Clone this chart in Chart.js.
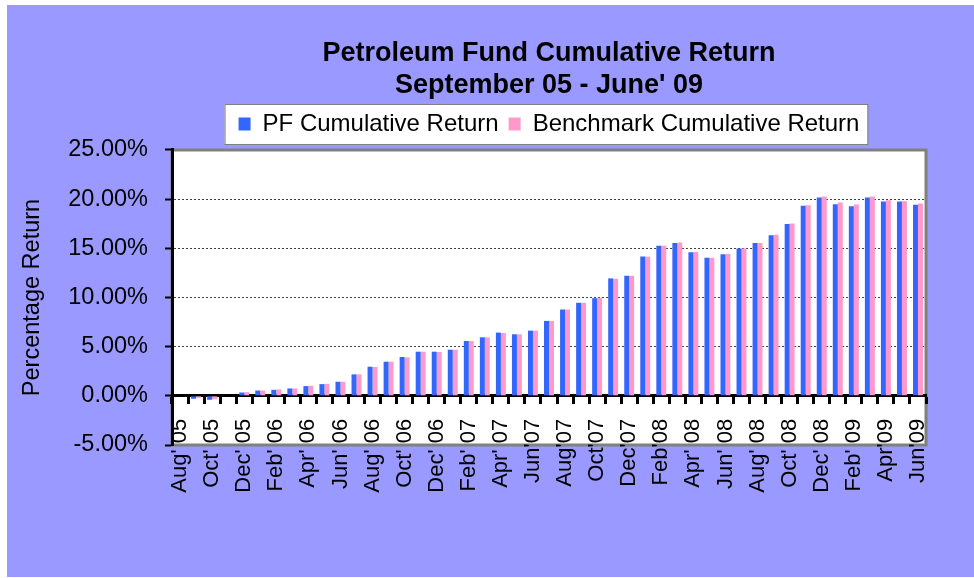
<!DOCTYPE html>
<html lang="en">
<head>
  <meta charset="UTF-8" />
  <title>Petroleum Fund Cumulative Return</title>
  <script src="https://cdn.jsdelivr.net/npm/chart.js"></script>
  <style>
    body {
      margin: 0;
      background: #ffffff;
    }
    .marco {
      position: absolute;
      left: 7px;
      top: 5px;
      width: 967px;
      height: 572px;
      background: #9999ff;
    }
  </style>
</head>
<body>
  <div class="marco">
    <canvas id="grafico" width="967" height="572"></canvas>
  </div>

  <script>
    // months Aug 05 .. Jun 09
    const months = [
      "Aug' 05", "Sep' 05", "Oct' 05", "Nov' 05", "Dec' 05",
      "Jan' 06", "Feb' 06", "Mar' 06", "Apr' 06", "May' 06", "Jun' 06",
      "Jul' 06", "Aug' 06", "Sep' 06", "Oct' 06", "Nov' 06", "Dec' 06",
      "Jan' 07", "Feb' 07", "Mar' 07", "Apr' 07", "May' 07", "Jun'07",
      "Jul'07", "Aug'07", "Sep'07", "Oct'07", "Nov'07", "Dec'07",
      "Jan'08", "Feb'08", "Mar'08", "Apr' 08", "May' 08", "Jun' 08",
      "Jul' 08", "Aug' 08", "Sep' 08", "Oct' 08", "Nov' 08", "Dec' 08",
      "Jan' 09", "Feb' 09", "Mar' 09", "Apr'09", "May'09", "Jun'09"
    ];

    // only every other month is labelled on the axis
    const tickLabels = [
      "Aug' 05", "Oct' 05", "Dec' 05", "Feb' 06", "Apr' 06", "Jun' 06",
      "Aug' 06", "Oct' 06", "Dec' 06", "Feb' 07", "Apr' 07", "Jun'07",
      "Aug'07", "Oct'07", "Dec'07", "Feb'08", "Apr' 08", "Jun' 08",
      "Aug' 08", "Oct' 08", "Dec' 08", "Feb' 09", "Apr'09", "Jun'09"
    ];

    const pfReturn = [
      null, -0.30, -0.40, 0.00, 0.34,
      0.54, 0.61, 0.75, 0.99, 1.19, 1.43, 2.18, 2.96, 3.47, 3.95, 4.49, 4.49,
      4.69, 5.58, 5.95, 6.43, 6.26, 6.63, 7.62, 8.78, 9.46, 9.93, 11.94, 12.21,
      14.18, 15.27, 15.54, 14.59, 14.05, 14.39, 14.97, 15.54, 16.33, 17.48, 19.32, 20.17,
      19.49, 19.29, 20.17, 19.76, 19.76, 19.42
    ];

    const benchmarkReturn = [
      null, -0.20, -0.35, 0.00, 0.37,
      0.54, 0.65, 0.75, 1.02, 1.22, 1.43, 2.18, 2.93, 3.47, 3.91, 4.49, 4.46,
      4.69, 5.58, 5.95, 6.39, 6.26, 6.63, 7.62, 8.78, 9.46, 9.97, 11.90, 12.21,
      14.15, 15.27, 15.58, 14.63, 14.05, 14.42, 14.97, 15.54, 16.39, 17.52, 19.39, 20.27,
      19.66, 19.46, 20.27, 19.90, 19.80, 19.56
    ];

    const fuente = 'Liberation Sans, Arial, sans-serif';

    // white plot box with grey frame, and white legend box
    const cajas = {
      id: 'cajas',
      afterInit(chart) {
        const fit = chart.legend.fit;
        chart.legend.fit = function () {
          fit.call(this);
          this.height += 4;
        };
      },
      beforeDraw(chart) {
        const { ctx, chartArea: a } = chart;
        ctx.save();
        ctx.fillStyle = '#ffffff';
        ctx.fillRect(a.left, a.top, a.right - a.left, a.bottom - a.top);
        ctx.strokeStyle = '#808080';
        ctx.lineWidth = 3;
        ctx.strokeRect(a.left, a.top, a.right - a.left, a.bottom - a.top);

        const hb = chart.legend.legendHitBoxes;
        if (hb && hb.length) {
          const izq = Math.min(...hb.map(h => h.left)) - 14;
          const der = Math.max(...hb.map(h => h.left + h.width)) + 8;
          const centro = hb[0].top + hb[0].height / 2;
          ctx.fillStyle = '#ffffff';
          ctx.fillRect(izq, centro - 20, der - izq, 40);
          ctx.strokeStyle = '#808080';
          ctx.lineWidth = 1;
          ctx.strokeRect(izq + 0.5, centro - 19.5, der - izq, 40);
        }
        ctx.restore();
      }
    };

    const ctx = document.getElementById('grafico').getContext('2d');
    new Chart(ctx, {
      type: 'bar',
      data: {
        labels: months,
        datasets: [
          {
            label: 'PF Cumulative Return',
            data: pfReturn,
            backgroundColor: '#3366ff'
          },
          {
            label: 'Benchmark Cumulative Return',
            data: benchmarkReturn,
            backgroundColor: '#ff99cc'
          }
        ]
      },
      options: {
        responsive: false,
        animation: false,
        devicePixelRatio: 1,
        categoryPercentage: 0.62,
        barPercentage: 1.0,
        layout: {
          padding: { left: 0, right: 48, top: 0, bottom: 132 }
        },
        plugins: {
          title: {
            display: true,
            fullSize: false,
            text: ['Petroleum Fund Cumulative Return', "September 05 - June' 09"],
            color: '#000',
            font: { family: fuente, size: 27, weight: 'bold', lineHeight: 1.185 },
            padding: { top: 33, bottom: 0 }
          },
          legend: {
            display: true,
            fullSize: false,
            labels: {
              color: '#000',
              font: { family: fuente, size: 24 },
              boxWidth: 12,
              boxHeight: 13,
              padding: 10
            }
          },
          tooltip: { enabled: true }
        },
        scales: {
          x: {
            position: { y: 0 },
            grid: {
              drawOnChartArea: false,
              offset: true,
              tickLength: 7,
              tickWidth: 3,
              tickColor: '#000'
            },
            border: { color: '#000', width: 3 },
            ticks: {
              autoSkip: false,
              minRotation: 90,
              maxRotation: 90,
              padding: 16,
              color: '#000',
              font: { family: fuente, size: 22 },
              callback: (v, i) => (i % 2 === 0 ? tickLabels[i / 2] : '')
            }
          },
          y: {
            min: -5,
            max: 25,
            afterFit: (scale) => { scale.width = 165; },
            grid: {
              color: (c) => ([5, 10, 15, 20].includes(c.tick.value) ? '#404040' : 'rgba(0,0,0,0)'),
              lineWidth: 1,
              tickLength: 7,
              tickWidth: 2,
              tickColor: '#000'
            },
            border: { color: '#000', width: 3, dash: [2, 2] },
            ticks: {
              stepSize: 5,
              padding: 17,
              color: '#000',
              font: { family: fuente, size: 23.5 },
              callback: (v) => v.toFixed(2) + '%'
            },
            title: {
              display: true,
              text: 'Percentage Return',
              color: '#000',
              font: { family: fuente, size: 23.5 },
              padding: { top: 11, bottom: 0 }
            }
          }
        }
      },
      plugins: [cajas]
    });
  </script>
</body>
</html>
